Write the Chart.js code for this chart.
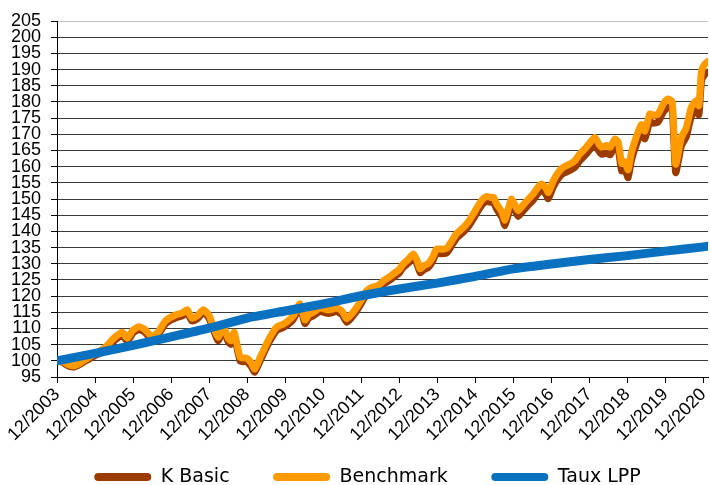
<!DOCTYPE html>
<html>
<head>
<meta charset="utf-8">
<script src="https://cdn.jsdelivr.net/npm/chart.js@4.4.1/dist/chart.umd.min.js"></script>
<style>
  html, body { margin: 0; padding: 0; background: #fff; }
  #wrap { width: 710px; height: 485px; position: relative; }
</style>
</head>
<body>
<div id="wrap"><canvas id="perfChart"></canvas></div>
<script>
// years since 12/2003
const tickYears = [2003, 2004, 2005, 2006, 2007, 2008, 2009, 2010, 2011, 2012, 2013, 2014, 2015, 2016, 2017, 2018, 2019, 2020];

const perfT = [0, 0.15, 0.3, 0.45, 0.6, 0.8, 1, 1.15, 1.3, 1.45, 1.6, 1.72, 1.85, 2, 2.15, 2.3, 2.5, 2.65, 2.85, 3,
    3.15, 3.3, 3.42, 3.55, 3.7, 3.85, 4, 4.1, 4.24, 4.37, 4.5, 4.58, 4.66, 4.82, 4.99, 5.1, 5.2, 5.34, 5.48, 5.6,
    5.78, 5.92, 6.04, 6.22, 6.39, 6.52, 6.62, 6.74, 6.92, 7.14, 7.36, 7.5, 7.62, 7.75, 7.88, 8, 8.14, 8.31, 8.45, 8.58,
    8.72, 8.84, 9, 9.1, 9.25, 9.37, 9.47, 9.55, 9.66, 9.76, 9.88, 9.98, 10.12, 10.25, 10.38, 10.5, 10.62, 10.73, 10.85, 10.95,
    11.08, 11.2, 11.3, 11.4, 11.48, 11.56, 11.7, 11.78, 11.87, 11.95, 12.05, 12.13, 12.25, 12.4, 12.52, 12.64, 12.74, 12.85, 12.92, 13.05,
    13.18, 13.31, 13.49, 13.62, 13.75, 13.92, 14.02, 14.14, 14.25, 14.32, 14.45, 14.55, 14.67, 14.76, 14.85, 14.93, 15.02, 15.1, 15.2, 15.37,
    15.46, 15.59, 15.68, 15.81, 15.94, 16.07, 16.18, 16.27, 16.42, 16.55, 16.68, 16.81, 16.88, 16.95, 17.04, 17.12];

const benchmark = [100, 99.8, 98.8, 98.5, 99.3, 100.8, 102.3, 103.2, 104.5, 106.5, 108, 108.8, 107, 109.5, 110.5, 109.8, 107.5, 108.8, 112.3, 113.5,
    114.3, 114.8, 115.8, 113.2, 114, 115.8, 114, 111, 107.3, 110.5, 107, 106.2, 108.8, 101, 100.8, 99.5, 97.5, 101, 104.5, 107.3,
    110.5, 111.2, 112, 114, 117.6, 112.6, 114.3, 115, 116.3, 115.7, 116.3, 115.3, 113, 114.5, 116.5, 118.8, 121.6, 122.8, 123.3, 124.7,
    125.8, 126.8, 128.2, 129.9, 131.5, 133, 131, 128.4, 129.5, 130, 132, 134.5, 134.5, 134.8, 137, 139.2, 140.5, 141.7, 143.5, 145.4,
    148, 150, 150.8, 150.5, 150.5, 148.5, 146, 143.5, 147, 150, 148, 146.4, 148, 150, 151.5, 153.5, 154.6, 153.5, 152, 155.6,
    158.2, 159.8, 160.8, 161.8, 163.9, 166, 167.5, 169, 167, 166, 166.5, 166, 168.5, 167.5, 161, 161.5, 159, 164, 168, 173,
    171, 176.3, 175.8, 176.3, 179.3, 180.9, 180, 160.8, 169, 172, 178.3, 180.4, 178.8, 189.6, 191.7, 192.5];

const kBasic = [100, 99.5, 98.4, 98.1, 98.9, 100.3, 101.6, 102.4, 103.7, 105.6, 107.1, 107.9, 106.1, 108.6, 109.6, 108.9, 106.6, 107.9, 111.4, 112.6,
    113.4, 113.9, 114.9, 112.3, 113.1, 114.9, 113.1, 110, 106.2, 109.4, 105.9, 105.1, 107.7, 99.9, 99.7, 98.4, 96.5, 99.9, 103.4, 106.2,
    109.4, 110.1, 110.9, 112.9, 116.5, 111.5, 113.2, 113.9, 115.2, 114.6, 115.2, 114.2, 111.9, 113.4, 115.4, 117.7, 120.5, 121.7, 122.2, 123.6,
    124.7, 125.7, 127.1, 128.8, 130.3, 131.8, 129.8, 127.2, 128.3, 128.8, 130.8, 133.2, 133.1, 133.4, 135.6, 137.8, 139.1, 140.3, 142, 143.9,
    146.5, 148.5, 149.3, 149, 148.9, 146.9, 144.4, 141.8, 145.3, 148.3, 146.3, 144.6, 146.2, 148.2, 149.6, 151.6, 152.7, 151.6, 150.1, 153.7,
    156.3, 157.9, 158.8, 159.8, 161.8, 163.9, 165.3, 166.8, 164.8, 163.8, 164.2, 163.7, 166.2, 165.2, 158.7, 159.2, 156.6, 161.6, 165.6, 170.6,
    168.6, 173.9, 173.4, 173.8, 176.8, 178.4, 177.4, 158.2, 166.4, 169.3, 175.5, 177.6, 176, 186.6, 188.6, 189.2];

const lppT = [0, 1, 2, 3, 4, 5, 6, 7, 8, 9, 10, 11, 12, 13, 14, 15, 16, 17, 17.12];
const tauxLPP = [100, 102.3, 104.8, 107.4, 110.1, 113.2, 115.4, 117.6, 120.1, 122.2, 124.0, 126.1, 128.4, 129.9, 131.3, 132.5, 133.9, 135.2, 135.4];

const toPoints = (xs, ys) => xs.map((x, i) => ({ x: x, y: ys[i] }));

const FONT = "'Liberation Sans', Arial, sans-serif";

// tick labels hang outside the (narrowed) scale boxes, so don't clip them
const noLabelClip = s => { s._computeLabelArea = () => undefined; };

new Chart(document.getElementById('perfChart'), {
    type: 'line',
    data: {
        datasets: [
            { label: 'K Basic', data: toPoints(perfT, kBasic), borderColor: '#9C3B00', backgroundColor: '#9C3B00', borderWidth: 7, order: 3 },
            { label: 'Benchmark', data: toPoints(perfT, benchmark), borderColor: '#FF9A00', backgroundColor: '#FF9A00', borderWidth: 7, order: 2 },
            { label: 'Taux LPP', data: toPoints(lppT, tauxLPP), borderColor: '#0A70C0', backgroundColor: '#0A70C0', borderWidth: 9, order: 1 }
        ]
    },
    options: {
        responsive: true,
        maintainAspectRatio: false,
        animation: false,
        layout: { padding: { top: 21, left: 27, right: 2, bottom: 0 } },
        elements: {
            point: { radius: 0, hoverRadius: 0 },
            line: { tension: 0.2, borderJoinStyle: 'round', borderCapStyle: 'round', fill: false }
        },
        plugins: {
            tooltip: { enabled: false },
            legend: {
                position: 'bottom',
                maxHeight: 61,
                labels: {
                    boxWidth: 57,
                    boxHeight: 8,
                    useBorderRadius: true,
                    borderRadius: 4,
                    padding: 43.5,
                    color: '#000',
                    font: { family: "'DejaVu Sans', sans-serif", size: 19 },
                    sort: (a, b) => a.datasetIndex - b.datasetIndex,
                    generateLabels: chart => Chart.defaults.plugins.legend.labels.generateLabels(chart)
                        .map(item => Object.assign(item, { lineWidth: 0, strokeStyle: 'transparent' }))
                }
            }
        },
        scales: {
            x: {
                type: 'linear',
                min: 0,
                max: 17.12,
                afterBuildTicks: s => { s.ticks = tickYears.map((y, i) => ({ value: i })); },
                afterFit: s => { s.paddingRight = 0; s.height = 47; noLabelClip(s); },
                border: { color: '#000', width: 1 },
                grid: { drawOnChartArea: false, drawTicks: true, tickLength: 6, tickColor: '#000' },
                ticks: {
                    autoSkip: false,
                    minRotation: 45,
                    maxRotation: 45,
                    padding: 1,
                    color: '#000',
                    font: { family: FONT, size: 18 },
                    callback: v => '12/' + tickYears[v]
                }
            },
            y: {
                min: 95,
                max: 205,
                afterFit: s => { s.width = 30; noLabelClip(s); },
                border: { color: '#000', width: 1 },
                grid: {
                    color: ctx => (ctx.tick && ctx.tick.value === 205) ? '#c4c4c4' : '#3a3a3a',
                    tickColor: '#000',
                    tickLength: 6
                },
                ticks: {
                    stepSize: 5,
                    autoSkip: false,
                    padding: 10,
                    color: '#000',
                    font: { family: FONT, size: 18 }
                }
            }
        }
    }
});
</script>
</body>
</html>
